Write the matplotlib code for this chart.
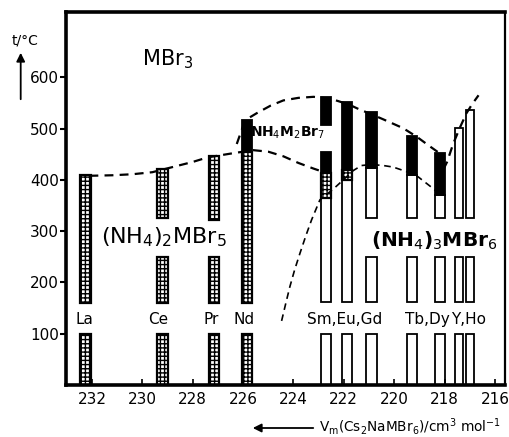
import numpy as np
import matplotlib
matplotlib.use('Agg')
import matplotlib.pyplot as plt
from matplotlib.patches import Rectangle, FancyArrowPatch

# ----- data
elements = ['La', 'Ce', 'Pr', 'Nd', 'Sm', 'Eu', 'Gd', 'Tb', 'Dy', 'Y', 'Ho']
vm = [232.25, 229.2, 227.15, 225.85, 222.7, 221.87, 220.9, 219.3, 218.19, 217.44, 217.0]
# segments per element: (t_low, t_high, kind)  s=stippled, b=black, w=open
segments = [
    [(0, 100, 's'), (160, 409, 's')],
    [(0, 100, 's'), (160, 250, 's'), (325, 421, 's')],
    [(0, 100, 's'), (160, 250, 's'), (322, 447, 's')],
    [(0, 100, 's'), (160, 455, 's'), (455, 516, 'b')],
    [(0, 100, 'w'), (162, 364, 'w'), (364, 413, 's'), (413, 455, 'b'), (507, 562, 'b')],
    [(0, 100, 'w'), (162, 400, 'w'), (400, 419, 's'), (419, 551, 'b')],
    [(0, 100, 'w'), (162, 250, 'w'), (325, 424, 'w'), (424, 533, 'b')],
    [(0, 100, 'w'), (162, 250, 'w'), (325, 409, 'w'), (409, 485, 'b')],
    [(0, 100, 'w'), (162, 250, 'w'), (325, 370, 'w'), (370, 453, 'b')],
    [(0, 100, 'w'), (162, 250, 'w'), (325, 502, 'w')],
    [(0, 100, 'w'), (162, 250, 'w'), (325, 536, 'w')],
]
bar_width = [0.42, 0.42, 0.42, 0.42, 0.4, 0.4, 0.4, 0.4, 0.4, 0.32, 0.32]

# dashed phase boundaries (vm, t)
curve_mbr3 = [(232.1, 408), (231.2, 409), (230.4, 411), (229.6, 415), (228.8, 425),
              (228.0, 435), (227.4, 444), (226.4, 452), (225.6, 458), (225.0, 455),
              (224.4, 446), (223.8, 433), (223.2, 422), (222.9, 417)]
curve_top = [(226.25, 470), (226.0, 505), (225.73, 522), (225.46, 530), (224.9, 545),
             (224.4, 555), (223.8, 560), (223.2, 562), (222.5, 558), (221.8, 547),
             (221.36, 537), (220.9, 528), (220.43, 518), (219.65, 501), (219.1, 484),
             (218.6, 466), (218.2, 452)]
curve_right = [(218.05, 420), (217.9, 435), (217.66, 470), (217.39, 502), (217.13, 530),
               (216.9, 548), (216.65, 565)]
curve_low = [(224.47, 125), (224.3, 160), (224.14, 192), (223.95, 225), (223.74, 257),
             (223.5, 292), (223.28, 322), (222.95, 361), (222.42, 382), (222.02, 400),
             (221.63, 418), (221.3, 428), (220.9, 430), (220.43, 428), (220.04, 425),
             (219.5, 416), (219.05, 406), (218.45, 383), (218.2, 372)]

xticks = [232, 230, 228, 226, 224, 222, 220, 218, 216]
yticks = [100, 200, 300, 400, 500, 600]

label_x = [232.3, 229.37, 227.25, 225.96, 221.96, 218.68, 217.03]
label_txt = ['La', 'Ce', 'Pr', 'Nd', 'Sm,Eu,Gd', 'Tb,Dy', 'Y,Ho']

plt.rcParams['font.family'] = ['DejaVu Sans']
plt.rcParams['mathtext.fontset'] = 'dejavusans'
plt.rcParams['hatch.linewidth'] = 1.0

W, H = 510, 437
fig = plt.figure(figsize=(W / 100, H / 100), dpi=100)
ax = fig.add_axes([66 / W, 1 - 385 / H, (505 - 66) / W, (385 - 11.7) / H])
ax.set_xlim(233.03, 215.6)
ax.set_ylim(0, 728)

for x, segs, w in zip(vm, segments, bar_width):
    for lo, hi, kind in segs:
        if kind == 's':
            r = Rectangle((x - w / 2, lo), w, hi - lo, facecolor='white',
                          edgecolor='black', hatch='++++', lw=1.6)
        elif kind == 'b':
            r = Rectangle((x - w / 2, lo), w, hi - lo, facecolor='black',
                          edgecolor='black', lw=1.3)
        else:
            r = Rectangle((x - w / 2, lo), w, hi - lo, facecolor='white',
                          edgecolor='black', lw=1.3)
        ax.add_patch(r)

for c, lw in [(curve_mbr3, 1.6), (curve_top, 1.6), (curve_right, 1.6), (curve_low, 1.2)]:
    cx, cy = zip(*c)
    ax.plot(cx, cy, color='black', lw=lw, linestyle=(0, (4, 2.8)))

for x, t in zip(label_x, label_txt):
    ax.text(x, 128, t, ha='center', va='center', fontsize=11)

ax.text(229.0, 636, r'MBr$_3$', ha='center', va='center', fontsize=15)
ax.text(224.24, 491, r'NH$_4$M$_2$Br$_7$', ha='center', va='center', fontsize=10,
        fontweight='bold')
ax.text(229.13, 288, r'(NH$_4$)$_2$MBr$_5$', ha='center', va='center', fontsize=16)
ax.text(218.42, 282, r'(NH$_4$)$_3$MBr$_6$', ha='center', va='center', fontsize=14.5,
        fontweight='bold')

ax.set_xticks(xticks)
ax.set_xticklabels([str(v) for v in xticks])
ax.set_yticks(yticks)
ax.set_yticklabels([str(v) for v in yticks])
ax.tick_params(axis='x', direction='in', length=4, width=1.2, labelsize=11, pad=5)
ax.tick_params(axis='y', direction='out', length=4, width=1.5, labelsize=11, pad=1)
for s in ['left', 'bottom', 'top']:
    ax.spines[s].set_linewidth(2.6)
ax.spines['right'].set_linewidth(1.6)

# axis captions with arrows
fig.text(25 / W, 1 - 40 / H, 't/°C', ha='center', va='center', fontsize=10)
fig.add_artist(FancyArrowPatch(
    (20.7 / W, 1 - 102 / H), (20.7 / W, 1 - 50 / H), transform=fig.transFigure,
    arrowstyle='-|>,head_length=5,head_width=2.5', color='black', lw=1.3))
fig.add_artist(FancyArrowPatch(
    (316 / W, 1 - 428 / H), (250 / W, 1 - 428 / H), transform=fig.transFigure,
    arrowstyle='-|>,head_length=5,head_width=2.5', color='black', lw=1.3))
fig.text(319 / W, 1 - 427 / H, r'V$_\mathrm{m}$(Cs$_2$NaMBr$_6$)/cm$^3$ mol$^{-1}$',
         ha='left', va='center', fontsize=9.8)

fig.savefig('out.png', dpi=100)
